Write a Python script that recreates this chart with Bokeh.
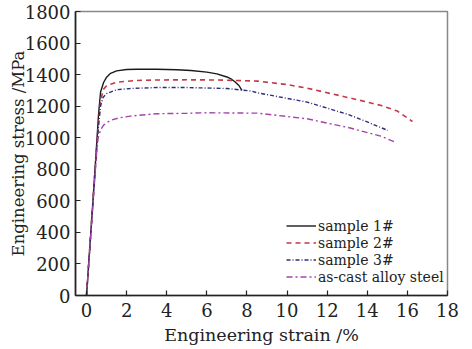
from bokeh.plotting import figure
from bokeh.embed import file_html
from bokeh.resources import INLINE
from bokeh.models import Range1d, FixedTicker

# ---- data ----
x_s1 = [0, 0.3, 0.5, 0.6, 0.7, 0.85, 1.0, 1.2, 1.5, 2.0, 2.5, 3.5, 4.5, 5.2, 6.0, 6.5, 7.0, 7.2, 7.4, 7.6, 7.75]
y_s1 = [0, 560, 950, 1150, 1290, 1350, 1384, 1408, 1424, 1432, 1434, 1434, 1431, 1426, 1416, 1405, 1385, 1373, 1355, 1331, 1300]

x_s2 = [0, 0.3, 0.5, 0.6, 0.7, 0.83, 1.0, 1.5, 2.5, 3.5, 5, 6.5, 8.5, 10, 11, 12, 13.3, 14.7, 15.5, 16.25]
y_s2 = [0, 560, 930, 1100, 1230, 1305, 1330, 1352, 1363, 1366, 1367, 1366, 1359, 1337, 1314, 1285, 1247, 1204, 1169, 1103]

x_s3 = [0, 0.3, 0.5, 0.6, 0.7, 0.83, 1.0, 1.5, 2.2, 3.5, 5, 7, 8.2, 8.5, 11, 13.1, 14, 15.03]
y_s3 = [0, 560, 920, 1080, 1200, 1257, 1280, 1304, 1312, 1318, 1318, 1312, 1296, 1285, 1226, 1145, 1100, 1046]

x_cast = [0, 0.3, 0.5, 0.58, 0.7, 0.85, 1.17, 1.6, 2.17, 3.5, 5, 6, 8.2, 8.5, 11, 13.1, 14.67, 15.4]
y_cast = [0, 540, 900, 1000, 1050, 1080, 1109, 1125, 1137, 1152, 1155, 1158, 1156, 1156, 1120, 1063, 1010, 972]

labels = ["sample 1#", "sample 2#", "sample 3#", "as-cast alloy steel"]
x_ticks = [0, 2, 4, 6, 8, 10, 12, 14, 16, 18]
y_ticks = [0, 200, 400, 600, 800, 1000, 1200, 1400, 1600, 1800]

FONT = "DejaVu Serif"

p = figure(width=460, height=349, output_backend="svg", toolbar_location=None,
           x_range=Range1d(-0.55, 18), y_range=Range1d(0, 1800),
           min_border_left=75, min_border_right=13, min_border_top=11, min_border_bottom=54)

p.line(x_s1, y_s1, line_color="#1a1a1a", line_width=1.4, legend_label=labels[0])
p.line(x_s2, y_s2, line_color="#c03a48", line_width=1.6, line_dash="5 4", legend_label=labels[1])
p.line(x_s3, y_s3, line_color="#2c2c7c", line_width=1.4, line_dash="4 2 1 2", legend_label=labels[2])
p.line(x_cast, y_cast, line_color="#a444a8", line_width=1.4, line_dash="6 3 2 3", legend_label=labels[3])

p.grid.visible = False
p.outline_line_color = "#888888"
p.outline_line_width = 1.5
p.background_fill_color = "white"
p.border_fill_color = "white"

for ax in (p.xaxis[0], p.yaxis[0]):
    ax.axis_line_color = "#222222"
    ax.axis_line_width = 1.6
    ax.major_tick_in = 5
    ax.major_tick_out = 0
    ax.major_tick_line_color = "#222222"
    ax.major_tick_line_width = 1.2
    ax.minor_tick_line_color = None
    ax.major_label_text_font = FONT
    ax.major_label_text_font_size = "18px"
    ax.major_label_text_color = "#222222"
    ax.axis_label_text_font = FONT
    ax.axis_label_text_font_style = "normal"
    ax.axis_label_text_color = "#222222"

p.xaxis.axis_label_text_font_size = "17.5px"
p.yaxis.axis_label_text_font_size = "16.5px"
p.xaxis.ticker = FixedTicker(ticks=x_ticks)
p.yaxis.ticker = FixedTicker(ticks=y_ticks)
p.xaxis.axis_label = "Engineering strain /%"
p.yaxis.axis_label = "Engineering stress /MPa"
p.xaxis.major_label_standoff = 7
p.yaxis.major_label_standoff = 5
p.xaxis.axis_label_standoff = 5
p.yaxis.axis_label_standoff = -6

lg = p.legend[0]
lg.location = (211, 10)
lg.border_line_color = None
lg.background_fill_alpha = 0
lg.padding = 0
lg.margin = 0
lg.spacing = 0
lg.glyph_width = 30
lg.glyph_height = 17
lg.label_height = 17
lg.label_standoff = 2
lg.label_text_font = FONT
lg.label_text_font_size = "14px"
lg.label_text_color = "#222222"

open("out.html", "w").write(file_html(p, INLINE))
